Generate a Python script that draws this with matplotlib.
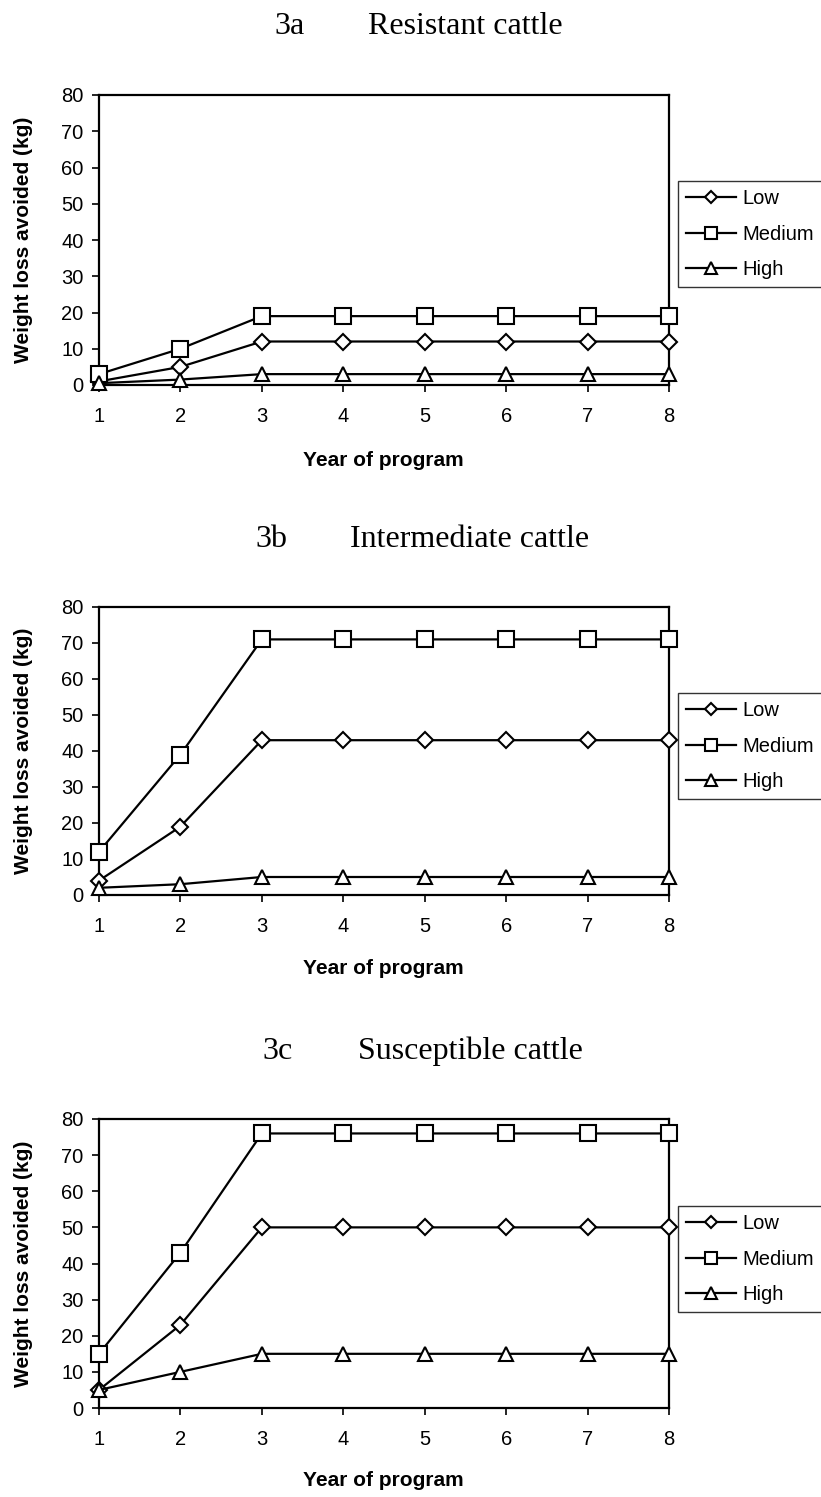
import matplotlib
matplotlib.use("Agg")
import matplotlib.pyplot as plt

years = [1, 2, 3, 4, 5, 6, 7, 8]
yticks = [0, 10, 20, 30, 40, 50, 60, 70, 80]
series_names = ["Low", "Medium", "High"]

resistant_low = [1, 5, 12, 12, 12, 12, 12, 12]
resistant_medium = [3, 10, 19, 19, 19, 19, 19, 19]
resistant_high = [0.5, 1.5, 3, 3, 3, 3, 3, 3]

intermediate_low = [4, 19, 43, 43, 43, 43, 43, 43]
intermediate_medium = [12, 39, 71, 71, 71, 71, 71, 71]
intermediate_high = [2, 3, 5, 5, 5, 5, 5, 5]

susceptible_low = [5, 23, 50, 50, 50, 50, 50, 50]
susceptible_medium = [15, 43, 76, 76, 76, 76, 76, 76]
susceptible_high = [5, 10, 15, 15, 15, 15, 15, 15]

panel_codes = ["3a", "3b", "3c"]
panel_titles = ["Resistant cattle", "Intermediate cattle", "Susceptible cattle"]
panels = [
    (resistant_low, resistant_medium, resistant_high),
    (intermediate_low, intermediate_medium, intermediate_high),
    (susceptible_low, susceptible_medium, susceptible_high),
]

W, H = 821, 1497
fig = plt.figure(figsize=(W / 100, H / 100), dpi=100)

# axes pixel boxes: (left, top, right, bottom)
boxes = [(99, 95, 669, 385), (99, 607, 669, 895), (99, 1119, 669, 1408)]
title_base = [34, 547, 1059]
code_x = [274, 255, 262]
name_x = [368, 350, 358]
xlabel_y = [460, 969, 1481]
legend_top = [181, 693, 1206]

markers = [dict(marker="D", ms=8), dict(marker="s", ms=11), dict(marker="^", ms=10)]

sans = "Liberation Sans"
serif = "Liberation Serif"

for i, (data, box) in enumerate(zip(panels, boxes)):
    l, t, r, b = box
    ax = fig.add_axes([l / W, 1 - b / H, (r - l) / W, (b - t) / H])
    handles = []
    for name, vals, mk in zip(series_names, data, markers):
        h, = ax.plot(years, vals, color="black", lw=1.6, marker=mk["marker"],
                     ms=mk["ms"], mfc="white", mec="black", mew=1.5,
                     label=name, clip_on=False, zorder=3)
        handles.append(h)
    ax.set_xlim(1, 8)
    ax.set_ylim(0, 80)
    ax.set_xticks(years)
    ax.set_yticks(yticks)
    for lab in ax.get_xticklabels() + ax.get_yticklabels():
        lab.set_fontfamily(sans)
        lab.set_fontsize(14.5)
    ax.tick_params(direction="out", length=5, width=1.2)
    ax.tick_params(axis="y", pad=6)
    ax.tick_params(axis="x", pad=11)
    for s in ax.spines.values():
        s.set_linewidth(1.6)
    ax.set_ylabel("Weight loss avoided (kg)", fontfamily=sans, fontweight="bold",
                  fontsize=15)
    ax.yaxis.set_label_coords((33 - l) / (r - l), 0.5)
    fig.text(383 / W, 1 - xlabel_y[i] / H, "Year of program", ha="center", va="center",
             fontfamily=sans, fontweight="bold", fontsize=15)
    fig.text(code_x[i] / W, 1 - title_base[i] / H, panel_codes[i],
             ha="left", va="baseline", fontfamily=serif, fontsize=23)
    fig.text(name_x[i] / W, 1 - title_base[i] / H, panel_titles[i],
             ha="left", va="baseline", fontfamily=serif, fontsize=23)
    lt = legend_top[i]
    leg = fig.legend(handles=handles, loc="upper left",
                     bbox_to_anchor=(678 / W, 1 - lt / H),
                     frameon=True, fancybox=False, edgecolor="black",
                     prop={"family": sans, "size": 14.5},
                     handlelength=2.5, handletextpad=0.3, borderpad=0.4,
                     labelspacing=0.82, borderaxespad=0)
    leg.get_frame().set_linewidth(1.0)
    for lh in leg.legend_handles:
        lh.set_markersize(lh.get_markersize() * 0.8)

fig.savefig("out.png", dpi=100, facecolor="white")
